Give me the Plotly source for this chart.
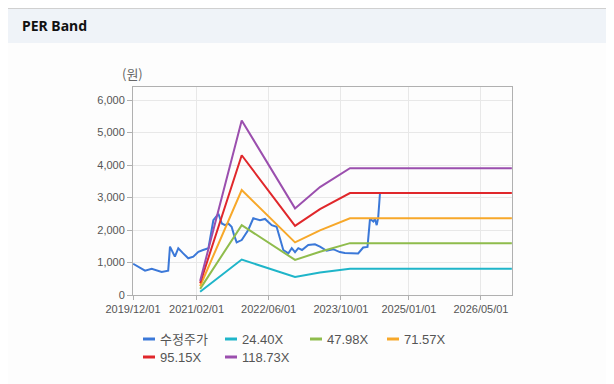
import plotly.graph_objects as go

# ---- data ----
price_dates = ["2019-12-02", "2020-01-04", "2020-02-20", "2020-04-05", "2020-05-08", "2020-06-11",
               "2020-07-25", "2020-08-06", "2020-09-08", "2020-10-01", "2020-11-03", "2020-12-07",
               "2021-01-10", "2021-02-13", "2021-03-17", "2021-04-22", "2021-05-25", "2021-06-28",
               "2021-07-21", "2021-08-12", "2021-09-03", "2021-09-25", "2021-10-11", "2021-10-29",
               "2021-12-02", "2022-01-15", "2022-02-18", "2022-04-04", "2022-05-08", "2022-06-22",
               "2022-07-25", "2022-08-17", "2022-09-08", "2022-10-12", "2022-11-04", "2022-11-26",
               "2022-12-18", "2023-01-12", "2023-02-23", "2023-04-09", "2023-05-13", "2023-06-27",
               "2023-08-10", "2023-09-24", "2023-10-27", "2024-01-25", "2024-02-28", "2024-03-28",
               "2024-04-14", "2024-05-06", "2024-05-17", "2024-05-29", "2024-06-08", "2024-06-20"]
price_values = [960, 880, 750, 810, 770, 710,
                750, 1490, 1180, 1440, 1280, 1130,
                1180, 1330, 1385, 1440, 2300, 2500,
                2200, 2150, 2200, 2100, 1850, 1620,
                1690, 2000, 2360, 2300, 2340, 2150,
                2100, 1690, 1385, 1280, 1440, 1320,
                1440, 1385, 1540, 1560, 1490, 1360,
                1410, 1320, 1290, 1280, 1460, 1480,
                2350, 2260, 2340, 2150, 2380, 3130]

band_dates = ["2021-02-25", "2021-12-02", "2022-11-26", "2023-05-13", "2023-12-01", "2026-11-25"]
band_24_40 = [100, 1090, 555, 690, 810, 810]
band_47_98 = [190, 2150, 1080, 1330, 1595, 1595]
band_71_57 = [270, 3230, 1620, 1990, 2360, 2360]
band_95_15 = [360, 4300, 2125, 2640, 3135, 3135]
band_118_73 = [430, 5370, 2665, 3320, 3900, 3900]

series_names = ["수정주가", "24.40X", "47.98X", "71.57X", "95.15X", "118.73X"]
series_colors = ["#3b78d8", "#1fb5c9", "#8fbc4c", "#f7a82a", "#e0272b", "#9b4fae"]

x_tick_vals = ["2019-12-01", "2021-02-01", "2022-06-01", "2023-10-01", "2025-01-01", "2026-05-01"]
x_tick_text = ["2019/12/01", "2021/02/01", "2022/06/01", "2023/10/01", "2025/01/01", "2026/05/01"]
y_tick_vals = [0, 1000, 2000, 3000, 4000, 5000, 6000]

# ---- figure ----
fig = go.Figure()
fig.add_trace(go.Scatter(x=price_dates, y=price_values, mode="lines", name=series_names[0],
                         line=dict(color=series_colors[0], width=2)))
for nm, col, vals in zip(series_names[1:], series_colors[1:],
                         [band_24_40, band_47_98, band_71_57, band_95_15, band_118_73]):
    fig.add_trace(go.Scatter(x=band_dates, y=vals, mode="lines", name=nm,
                             line=dict(color=col, width=2)))

OFF = 8  # page body margin
W, H = 614 - OFF, 384 - OFF
L, R, T, B = 133 - OFF, 512 - OFF, 87 - OFF, 295 - OFF
pw, ph = R - L, B - T

def px(x):  # reference page pixel -> paper
    return (x - OFF - L) / pw

def py(y):
    return (B - (y - OFF)) / ph

shapes = [
    dict(type="rect", xref="paper", yref="paper", x0=px(8), x1=px(620), y0=py(43), y1=py(8),
         fillcolor="#eff3f8", line=dict(width=0), layer="below"),
    dict(type="line", xref="paper", yref="paper", x0=px(8), x1=px(620), y0=py(8), y1=py(8),
         line=dict(color="#d0d0d0", width=2)),
    dict(type="rect", xref="paper", yref="paper", x0=px(8), x1=px(620), y0=py(390), y1=py(43),
         fillcolor="#fdfdfd", line=dict(width=0), layer="below"),
]
annotations = [
    dict(text="<b>PER Band</b>", xref="paper", yref="paper", x=px(20), y=py(26),
         xanchor="left", yanchor="middle", showarrow=False,
         font=dict(size=14, color="#111", family="Noto Sans, Liberation Sans, sans-serif")),
    dict(text="(원)", xref="paper", yref="paper", x=px(132), y=py(73),
         xanchor="center", yanchor="middle", showarrow=False,
         font=dict(size=13, color="#666", family="Noto Sans CJK KR, sans-serif")),
]

# custom legend (short line swatches like the original)
legend_pos = [(143, 339), (225, 339), (310, 339), (387, 339), (143, 357), (225, 357)]
for nm, col, (lx, ly) in zip(series_names, series_colors, legend_pos):
    shapes.append(dict(type="line", xref="paper", yref="paper", x0=px(lx), x1=px(lx + 12),
                       y0=py(ly), y1=py(ly), line=dict(color=col, width=3)))
    annotations.append(dict(text=nm, xref="paper", yref="paper", x=px(lx + 15), y=py(ly),
                            xanchor="left", yanchor="middle", showarrow=False,
                            font=dict(size=13, color="#555",
                                      family="Liberation Sans, Arial, Noto Sans CJK KR, sans-serif")))

fig.update_layout(
    width=W, height=H,
    margin=dict(l=L, r=W - R, t=T, b=H - B, pad=0, autoexpand=False),
    paper_bgcolor="white", plot_bgcolor="white",
    font=dict(family="Liberation Sans, Arial, Noto Sans CJK KR, sans-serif", size=11, color="#555"),
    showlegend=False,
    xaxis=dict(type="date", range=["2019-12-01", "2026-11-26"], tickvals=x_tick_vals,
               ticktext=x_tick_text, showgrid=True, gridcolor="#e8e8e8", gridwidth=1,
               showline=True, linecolor="#b0b0b0", linewidth=1, mirror=True,
               ticks="outside", ticklen=4, tickcolor="#b0b0b0", zeroline=False,
               tickfont=dict(size=11, color="#555")),
    yaxis=dict(range=[0, 6400], tickvals=y_tick_vals, tickformat=",d",
               showgrid=True, gridcolor="#e8e8e8", gridwidth=1,
               showline=True, linecolor="#b0b0b0", linewidth=1, mirror=True,
               ticks="outside", ticklen=5, tickcolor="#b0b0b0", zeroline=False,
               tickfont=dict(size=11, color="#555")),
    shapes=shapes,
    annotations=annotations,
)

fig.write_html("out.html")
